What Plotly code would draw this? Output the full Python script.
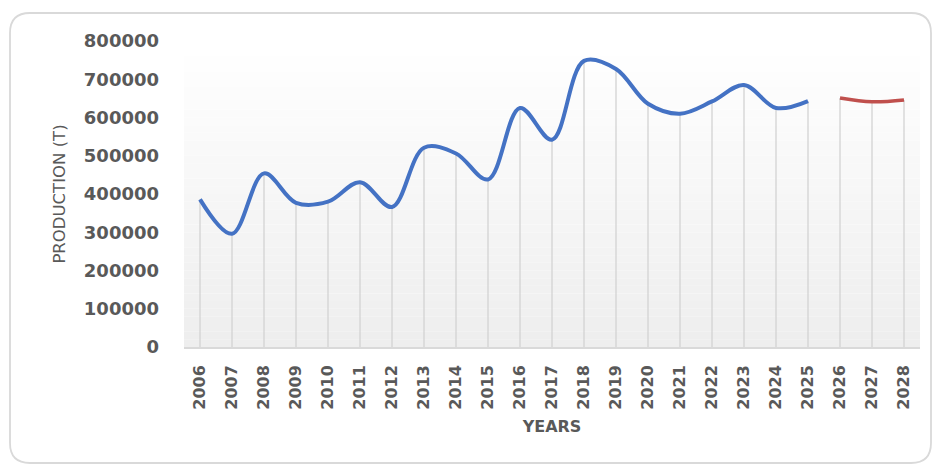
import plotly.graph_objects as go

years = [str(y) for y in range(2006, 2029)]
actual_years = years[:20]          # 2006-2025
forecast_years = years[20:]        # 2026-2028
actual_values = [386000, 296000, 454000, 377000, 380000, 431000, 366000, 521000,
                 506000, 438000, 625000, 542000, 748000, 727000, 636000, 610000,
                 642000, 685000, 625000, 643000]
forecast_values = [651000, 641000, 646000]
y_ticks = [0, 100000, 200000, 300000, 400000, 500000, 600000, 700000, 800000]

W, H = 940, 467
ML, MR, MT, MB = 184, 20, 41, 120
PW, PH = W - ML - MR, H - MT - MB


def px(x):
    return (x - ML) / PW


def py(y):
    return (H - MB - y) / PH


fig = go.Figure()

# drop lines from each point to the axis
all_years = actual_years + forecast_years
all_values = actual_values + forecast_values
dx, dy = [], []
for c, v in zip(all_years, all_values):
    dx += [c, c, None]
    dy += [0, v, None]
fig.add_trace(go.Scatter(x=dx, y=dy, mode="lines",
                         line=dict(color="#d3d3d3", width=1.3),
                         hoverinfo="skip", showlegend=False))

fig.add_trace(go.Scatter(x=actual_years, y=actual_values, mode="lines",
                         line=dict(color="#4472C4", width=4, shape="spline", smoothing=1),
                         showlegend=False, name="Production"))
fig.add_trace(go.Scatter(x=forecast_years, y=forecast_values, mode="lines",
                         line=dict(color="#C0504D", width=3.5, shape="spline", smoothing=1),
                         showlegend=False, name="Forecast"))

shapes = []
# gradient plot background
n = 40
for i in range(n):
    t = i / (n - 1)
    c = int(round(255 - (255 - 238) * (1 - t)))
    shapes.append(dict(type="rect", xref="paper", yref="paper",
                       x0=0, x1=1, y0=i / n, y1=(i + 1) / n,
                       fillcolor=f"rgb({c},{c},{c})", line=dict(width=0),
                       layer="below"))

# rounded outer border
x0, x1, y0, y1, r = 10, 931, 13, 463, 20
path = (f"M {px(x0 + r)},{py(y0)} L {px(x1 - r)},{py(y0)} "
        f"Q {px(x1)},{py(y0)} {px(x1)},{py(y0 + r)} "
        f"L {px(x1)},{py(y1 - r)} Q {px(x1)},{py(y1)} {px(x1 - r)},{py(y1)} "
        f"L {px(x0 + r)},{py(y1)} Q {px(x0)},{py(y1)} {px(x0)},{py(y1 - r)} "
        f"L {px(x0)},{py(y0 + r)} Q {px(x0)},{py(y0)} {px(x0 + r)},{py(y0)} Z")
shapes.append(dict(type="path", xref="paper", yref="paper", path=path,
                   line=dict(color="#d9d9d9", width=1.8), layer="below"))

fig.update_layout(
    width=W, height=H,
    margin=dict(l=ML, r=MR, t=MT, b=MB),
    paper_bgcolor="white",
    plot_bgcolor="rgba(0,0,0,0)",
    shapes=shapes,
    showlegend=False,
    font=dict(family="DejaVu Sans", color="#595959"),
)

fig.update_xaxes(
    type="category", categoryorder="array", categoryarray=years,
    range=[-0.5, len(years) - 0.5],
    showgrid=False, zeroline=False,
    showline=True, linecolor="#d9d9d9", linewidth=1.5,
    ticks="", tickangle=-90,
    tickfont=dict(family="DejaVu Sans", size=16, weight="bold", color="#595959"),
    ticklabelstandoff=10,
    title=dict(text="YEARS", standoff=12,
               font=dict(family="DejaVu Sans", size=16, weight="bold", color="#595959")),
)

fig.update_yaxes(
    range=[0, 800000], tickvals=y_ticks, ticktext=[str(v) for v in y_ticks],
    showgrid=False, zeroline=False, showline=False, ticks="",
    tickfont=dict(family="DejaVu Sans", size=18, weight="bold", color="#595959"),
    ticklabelstandoff=24,
    title=dict(text="PRODUCTION (T)", standoff=14,
               font=dict(family="DejaVu Sans", size=16.5, color="#595959")),
)

fig.write_html("out.html")
